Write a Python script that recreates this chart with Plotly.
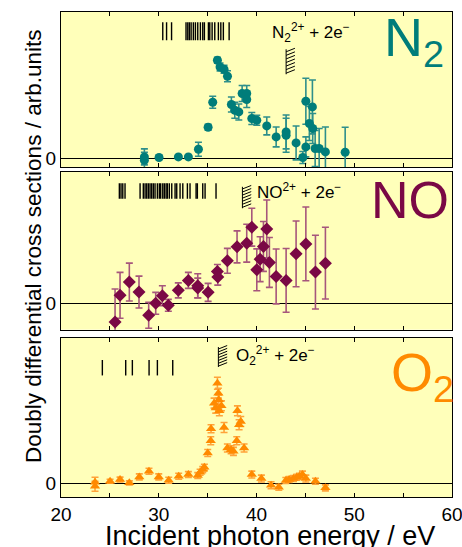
import plotly.graph_objects as go

# ---------------- data ----------------
n2_E = [28.53, 28.53, 30.03, 32.01, 33.03, 34.06, 35.05, 35.52, 36.0, 36.27, 36.68, 37.03, 37.43, 37.78, 38.19,
        38.53, 39.0, 39.0, 39.52, 40.03, 41.05, 42.01, 43.03, 43.03, 44.05, 44.74, 45.05, 45.05, 45.41, 45.72,
        45.75, 46.0, 46.41, 47.05, 49.07]
n2_val = [0.13, -0.2, 0.07, 0.13, 0.13, 0.9, 3.1, 5.6, 9.8, 9.13, 8.9, 8.2, 5.37, 4.8, 4.63,
          6.47, 6.47, 5.87, 3.97, 3.8, 3.23, 2.13, 2.63, 2.3, 1.53, 0.07, 5.7, 1.13, 3.47, 5.13,
          2.97, 0.97, 0.97, 0.63, 0.6]
n2_err = [0.8, 0.8, 0.2, 0.2, 0.15, 0.7, 0.3, 0.6, 0.3, 0.4, 0.4, 0.55, 0.75, 0.8, 0.8,
          0.8, 0.8, 0.8, 0.6, 0.5, 0.9, 1.0, 1.7, 1.7, 1.7, 0.6, 2.3, 1.0, 1.7, 2.7,
          1.5, 1.8, 2.0, 2.5, 2.5]

no_E = [25.53, 26.04, 26.99, 27.98, 28.97, 29.69, 30.37, 30.98, 32.0, 33.03, 33.99, 33.99, 35.05, 36.0, 36.04,
        37.02, 38.01, 39.0, 39.52, 40.03, 40.37, 40.71, 41.05, 41.32, 42.01, 43.03, 44.05, 45.05, 46.03, 47.05]
no_val = [-1.9, 0.77, 2.1, 1.1, -1.23, -0.03, 0.73, -0.23, 1.27, 2.27, 1.73, 1.5, 1.07, 3.17, 2.6,
          4.23, 5.63, 6.0, 7.6, 3.33, 4.4, 5.67, 7.43, 4.07, 2.67, 2.27, 4.93, 5.93, 3.1, 4.0]
no_err = [3.3, 2.3, 1.9, 1.6, 1.3, 1.1, 1.0, 0.6, 0.75, 0.8, 1.2, 1.0, 0.9, 0.7, 0.8,
          1.25, 1.6, 1.9, 1.9, 2.1, 2.25, 2.5, 2.9, 2.5, 2.75, 3.2, 3.3, 3.7, 3.7, 3.6]

o2_E = [23.48, 23.48, 25.02, 26.04, 26.99, 28.01, 29.0, 30.0, 31.02, 32.04, 33.03, 33.99, 34.23, 34.5, 34.67,
        35.01, 35.32, 35.35, 35.66, 35.83, 36.0, 36.1, 36.14, 36.2, 36.41, 36.68, 37.02, 37.4, 37.64, 37.98,
        38.05, 38.22, 38.39, 38.73, 39.52, 40.5, 41.49, 42.28, 43.0, 43.34, 43.78, 44.12, 44.39, 44.7, 45.05,
        46.03, 47.05]
o2_val = [0.13, -0.27, 0.23, 0.4, 0.07, 0.67, 1.23, 0.67, 0.33, 0.73, 0.9, 0.8, 1.13, 1.4, 1.63,
          3.07, 4.3, 5.5, 8.07, 7.57, 10.07, 9.07, 8.4, 7.3, 7.8, 5.63, 3.57, 3.4, 3.23, 4.3,
          7.3, 5.9, 6.23, 3.57, 0.9, 0.5, -0.17, -0.37, 0.3, 0.4, 0.5, 0.63, 0.73, 0.9, 0.5,
          0.23, -0.43]
o2_err = [0.5, 0.5, 0.2, 0.25, 0.2, 0.3, 0.3, 0.3, 0.3, 0.3, 0.3, 0.3, 0.3, 0.3, 0.3,
          0.35, 0.4, 0.4, 0.5, 0.5, 0.6, 0.5, 0.5, 0.5, 0.5, 0.5, 0.4, 0.4, 0.4, 0.4,
          0.5, 0.5, 0.5, 0.4, 0.35, 0.35, 0.35, 0.3, 0.3, 0.3, 0.3, 0.3, 0.3, 0.35, 0.35,
          0.3, 0.3]

# state energies (vertical bar marks)
n2_states = [30.41, 30.8, 31.31, 32.79, 32.97, 33.13, 33.31, 33.54, 33.75, 33.99, 34.26, 34.5, 34.67,
             35.08, 35.22, 35.46, 35.73, 36.1, 36.35, 36.61, 37.2]
no_states = [25.97, 26.14, 26.32, 26.55, 28.09, 28.42, 28.6, 28.77, 28.94, 29.11, 29.28, 29.45, 29.62,
             29.86, 30.06, 30.2, 30.41, 30.57, 30.75, 30.88, 31.08, 31.33, 31.67, 31.84, 32.18, 32.46,
             32.93, 33.2, 33.82, 33.95, 34.5, 34.74, 35.86]
o2_states = [24.23, 26.62, 27.3, 29.01, 29.86, 31.43]

# double-ionisation thresholds
n2_thr = 43.03
no_thr = 38.56
o2_thr = 36.1

xticks = [20, 25, 30, 35, 40, 45, 50, 55, 60]
xticktext = ["20", "", "30", "", "40", "", "50", "", "60"]

# ---------------- styling ----------------
FONT = "Liberation Sans, Arial, Helvetica, sans-serif"
BG = "#FFFFBA"
C_N2, C_N2E = "#007D7A", "#2E8F8B"
C_NO, C_NOE = "#7A0845", "#A6567C"
C_O2, C_O2E = "#FF8A00", "#FFA33A"

fig = go.Figure()

def data_trace(E, v, e, color, ecolor, symbol, size, ax):
    return go.Scatter(x=E, y=v, mode="markers",
                      marker=dict(symbol=symbol, size=size, color=color, line=dict(width=0)),
                      error_y=dict(type="data", array=e, visible=True, color=ecolor, thickness=1.6, width=3.5),
                      xaxis="x" + ax, yaxis="y" + ax, showlegend=False, hoverinfo="x+y")

def bars_trace(states, lo, hi, ax):
    xs, ys = [], []
    for s in states:
        xs += [s, s, None]
        ys += [lo, hi, None]
    return go.Scatter(x=xs, y=ys, mode="lines", line=dict(color="black", width=1.4),
                      xaxis="x" + ax, yaxis="y" + ax, showlegend=False, hoverinfo="skip")

def hatch_trace(e0, ytop, ybot, ax, n=7, dx=0.9, dy=0.35):
    xs, ys = [e0, e0, None], [ybot, ytop, None]
    step = (ytop - ybot) / n
    for i in range(n):
        yb = ybot + i * step + step * 0.3
        xs += [e0, e0 + dx, None]
        ys += [yb, yb + dy, None]
    return go.Scatter(x=xs, y=ys, mode="lines", line=dict(color="black", width=1),
                      xaxis="x" + ax, yaxis="y" + ax, showlegend=False, hoverinfo="skip")

# axis ids: "" -> top (N2), "2" -> middle (NO), "3" -> bottom (O2)
fig.add_trace(bars_trace(n2_states, 11.8, 13.6, ""))
fig.add_trace(bars_trace(no_states, 10.45, 12.0, "2"))
fig.add_trace(bars_trace(o2_states, 10.85, 12.4, "3"))
fig.add_trace(hatch_trace(n2_thr, 10.9, 8.4, ""))
fig.add_trace(hatch_trace(no_thr, 11.65, 9.5, "2"))
fig.add_trace(hatch_trace(o2_thr, 13.7, 11.7, "3"))
fig.add_trace(data_trace(n2_E, n2_val, n2_err, C_N2, C_N2E, "circle", 9, ""))
fig.add_trace(data_trace(no_E, no_val, no_err, C_NO, C_NOE, "diamond", 10, "2"))
fig.add_trace(data_trace(o2_E, o2_val, o2_err, C_O2, C_O2E, "triangle-up", 9, "3"))

def xaxis(anchor, labels):
    return dict(range=[20, 60], anchor=anchor, domain=[0, 1], showline=True, mirror="ticks",
                linecolor="black", linewidth=1, ticks="inside", ticklen=4, tickcolor="black",
                tickmode="array", tickvals=xticks, ticktext=xticktext, showticklabels=labels,
                ticklabeloverflow="allow", automargin=False,
                showgrid=False, zeroline=False, tickfont=dict(size=19, color="black", family=FONT))

def yaxis(anchor, rng, dom):
    return dict(range=rng, anchor=anchor, domain=dom, showline=True, mirror=True, linecolor="black",
                linewidth=1, ticks="inside", ticklen=4, tickcolor="black", tickmode="array",
                tickvals=[0], ticktext=["0"], showgrid=False, zeroline=True, zerolinecolor="black",
                zerolinewidth=1, automargin=False, tickfont=dict(size=19, color="black", family=FONT))

fig.update_layout(
    width=462, height=547,
    margin=dict(l=61, r=10, t=12, b=50),
    paper_bgcolor="white", plot_bgcolor=BG,
    font=dict(family=FONT, color="black"),
    xaxis=xaxis("y", False), xaxis2=xaxis("y2", False), xaxis3=xaxis("y3", True),
    yaxis=yaxis("x", [-0.9, 14.63], [0.680, 1.0]),
    yaxis2=yaxis("x2", [-2.67, 13.13], [0.345, 0.670]),
    yaxis3=yaxis("x3", [-1.35, 14.6], [0.0, 0.3277]),
)

ann = [
    dict(text="N<sub>2</sub>", x=0.985, y=0.94, font=dict(size=54, color=C_N2), xanchor="right", yanchor="middle"),
    dict(text="NO", x=0.997, y=0.612, font=dict(size=52, color=C_NO), xanchor="right", yanchor="middle"),
    dict(text="O<sub>2</sub>", x=1.01, y=0.25, font=dict(size=54, color=C_O2), xanchor="right", yanchor="middle"),
    dict(text="N<sub>2</sub><sup>2+</sup> + 2e<sup>−</sup>", x=0.535, y=0.958, font=dict(size=17), xanchor="left", yanchor="middle"),
    dict(text="NO<sup>2+</sup> + 2e<sup>−</sup>", x=0.496, y=0.631, font=dict(size=17), xanchor="left", yanchor="middle"),
    dict(text="O<sub>2</sub><sup>2+</sup> + 2e<sup>−</sup>", x=0.442, y=0.291, font=dict(size=17), xanchor="left", yanchor="middle"),
    dict(text="Doubly differential cross sections / arb.units", x=-0.072, y=0.517, textangle=-90,
         font=dict(size=22.5), xanchor="center", yanchor="middle"),
    dict(text="Incident photon energy / eV", x=0.535, y=-0.08, font=dict(size=27),
         xanchor="center", yanchor="middle"),
]
for a in ann:
    a.update(xref="paper", yref="paper", showarrow=False)
fig.update_layout(annotations=ann)

fig.write_html("out.html", config={"displayModeBar": False},
               post_script="document.body.style.margin='0';")
